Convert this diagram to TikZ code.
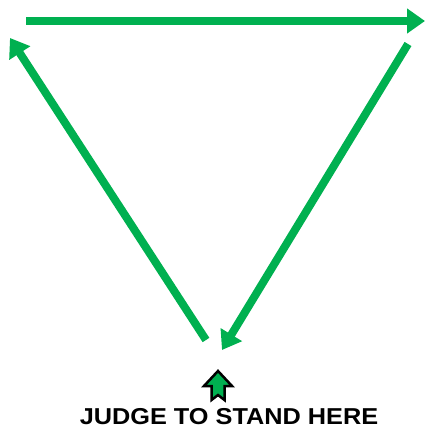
\documentclass[tikz,border=0pt]{standalone}
\usepackage{fontspec}
\setmainfont{Liberation Sans}
\usetikzlibrary{arrows.meta}
\definecolor{judgegreen}{HTML}{00B050}
\tikzset{
  garr/.style={-{Triangle[length=18pt, width=24pt]}, line width=8pt, draw=judgegreen},
  marker/.style={fill=judgegreen, draw=black, line width=2.5pt, line join=miter},
  lbl/.style={font=\bfseries\fontsize{23}{25}\selectfont, inner sep=0pt},
}
\begin{document}
\begin{tikzpicture}[x=1pt, y=-1pt]
\useasboundingbox (0,0) rectangle (426,427);

% corners of the walk
\coordinate (tl) at (26,21);
\coordinate (tr) at (425,21);
\coordinate (rs) at (408,44);
\coordinate (bt) at (222,350);
\coordinate (ls) at (206,340);
\coordinate (lt) at (10,38);

\draw[garr] (tl) -- (tr);
\draw[garr] (rs) -- (bt);
\draw[garr] (ls) -- (lt);

% standing point
\node[lbl, anchor=base] (judge) at (229,424) {\scalebox{1.1}[1]{JUDGE TO STAND HERE}};
\draw[marker] (218,371) -- (232,386) -- (224.5,386) -- (224.5,400) -- (218,395)
  -- (211.5,400) -- (211.5,386) -- (204,386) -- cycle;

\end{tikzpicture}
\end{document}
